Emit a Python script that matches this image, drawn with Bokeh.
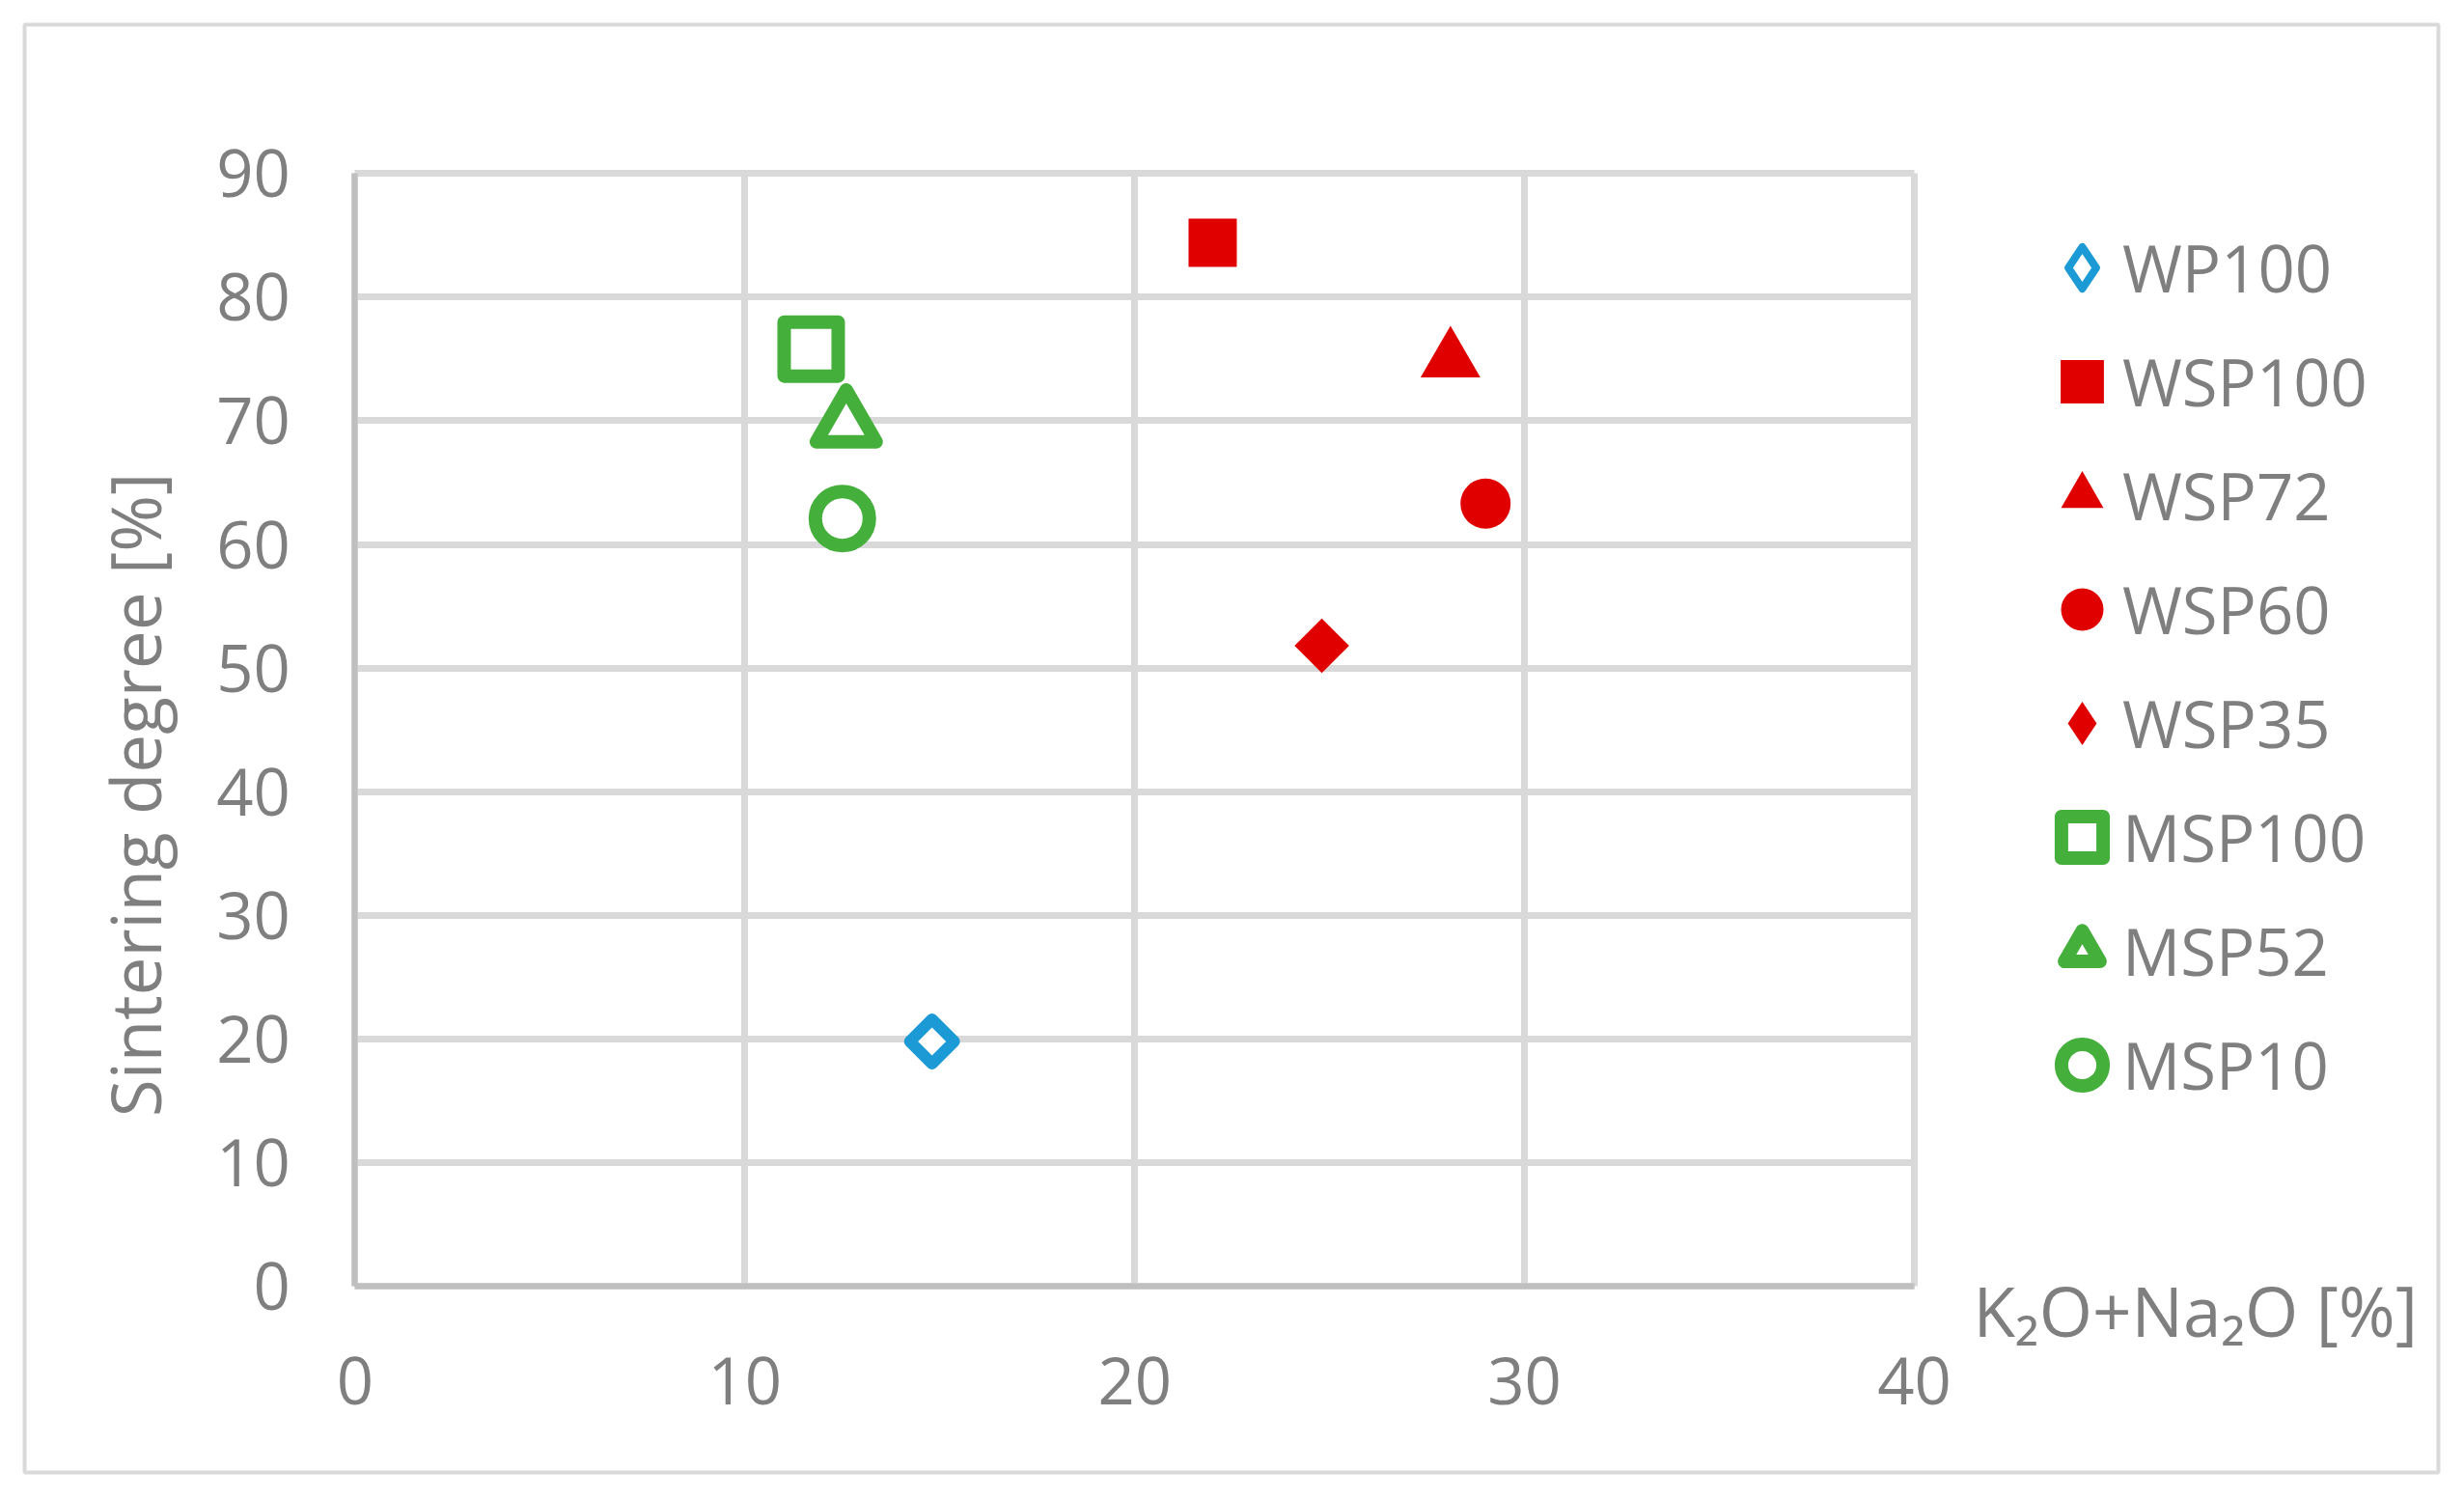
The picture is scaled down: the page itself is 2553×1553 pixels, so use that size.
import math
from bokeh.plotting import figure
from bokeh.models import (Range1d, FixedTicker, Legend, LegendItem, Label, Grid)
from bokeh.embed import file_html
from bokeh.resources import INLINE

# ---------------- data ----------------
names = ["WP100", "WSP100", "WSP72", "WSP60", "WSP35", "MSP100", "MSP52", "MSP10"]
alkali = [14.8, 22.0, 28.1, 29.0, 24.8, 11.7, 12.6, 12.5]          # K2O+Na2O [%]
sintering = [19.8, 84.4, 74.9, 63.3, 51.8, 75.8, 69.7, 62.1]       # Sintering degree [%]
x_ticks = [0, 10, 20, 30, 40]
y_ticks = [0, 10, 20, 30, 40, 50, 60, 70, 80, 90]
x_title = "K\u2082O+Na\u2082O [%]"
y_title = "Sintering degree [%]"

# ---------------- styles ----------------
BLUE, RED, GREEN = "#1C9AD6", "#E00000", "#45AF3C"
TXT = "#7F7F7F"
FONT = "Open Sans"
Q = math.pi / 4
# plot marker style; "leg" = legend glyph box width, "lm" = legend marker override
styles = [
    dict(marker="square", angle=Q, size=32.5, fill_color="white", line_color=BLUE, line_width=12,
         leg=108, lm=dict(marker="diamond", line_width=8)),
    dict(marker="square", angle=0, size=50, fill_color=RED, line_color=None, line_width=0, leg=112, lm=None),
    dict(marker="triangle", angle=0, size=62, fill_color=RED, line_color=None, line_width=0, leg=110, lm=None),
    dict(marker="circle", angle=0, size=52, fill_color=RED, line_color=None, line_width=0, leg=110, lm=None),
    dict(marker="square", angle=Q, size=40, fill_color=RED, line_color=None, line_width=0,
         leg=112, lm=dict(marker="diamond", line_width=0)),
    dict(marker="square", angle=0, size=56, fill_color="white", line_color=GREEN, line_width=14, leg=108, lm=None),
    dict(marker="triangle", angle=0, size=62, fill_color="white", line_color=GREEN, line_width=14, leg=92, lm=None),
    dict(marker="circle", angle=0, size=56, fill_color="white", line_color=GREEN, line_width=14, leg=108, lm=None),
]

# ---------------- layout (canvas px) ----------------
W, H = 2537, 1537
BOX_L, BOX_T, BOX_R, BOX_B = 25, 25, 2526, 1525     # outer chart box = frame
PL, PR, PT, PB = 367.4, 1983.0, 179.3, 1332.0       # plot-area edges
X0, X1 = x_ticks[0], x_ticks[-1]
Y0, Y1 = y_ticks[0], y_ticks[-1]
kx = (PR - PL) / (X1 - X0)
ky = (PB - PT) / (Y1 - Y0)
x_range = Range1d(X0 - (PL - BOX_L) / kx, X1 + (BOX_R - PR) / kx)
y_range = Range1d(Y0 - (BOX_B - PB) / ky, Y1 + (PT - BOX_T) / ky)

p = figure(width=W, height=H, output_backend="svg", toolbar_location=None,
           x_range=x_range, y_range=y_range,
           min_border_left=BOX_L, min_border_right=W - BOX_R,
           min_border_top=BOX_T, min_border_bottom=H - BOX_B)
p.outline_line_color = "#D9D9D9"
p.outline_line_width = 4
p.background_fill_color = "white"
p.border_fill_color = "white"

for ax, ticks in ((p.xaxis, x_ticks), (p.yaxis, y_ticks)):
    ax.ticker = FixedTicker(ticks=ticks)
    ax.fixed_location = 0
    ax.bounds = (ticks[0], ticks[-1])
    ax.major_tick_line_color = None
    ax.minor_tick_line_color = None
    ax.axis_line_color = "#BFBFBF"
    ax.axis_line_width = 6
    ax.major_label_text_font = FONT
    ax.major_label_text_font_size = "67px"
    ax.major_label_text_color = TXT

p.xaxis.major_label_standoff = 67
p.yaxis.major_label_standoff = 61

has_cross = "cross_bounds" in Grid.properties()
p.xgrid.ticker = FixedTicker(ticks=x_ticks)
p.ygrid.ticker = FixedTicker(ticks=y_ticks)
p.xgrid.bounds = (X0, X1)
p.ygrid.bounds = (Y0, Y1)
if has_cross:
    p.xgrid.cross_bounds = (Y0, Y1)
    p.ygrid.cross_bounds = (X0, X1)
    for g in (p.xgrid, p.ygrid):
        g.grid_line_color = "#D9D9D9"
        g.grid_line_width = 7
else:
    p.xgrid.grid_line_color = None
    p.ygrid.grid_line_color = None
    p.segment(x0=x_ticks, x1=x_ticks, y0=[Y0] * len(x_ticks), y1=[Y1] * len(x_ticks),
              line_color="#D9D9D9", line_width=7, level="underlay")
    p.segment(x0=[X0] * len(y_ticks), x1=[X1] * len(y_ticks), y0=y_ticks, y1=y_ticks,
              line_color="#D9D9D9", line_width=7, level="underlay")

# ---------------- markers + legend ----------------
LEG_CX, LEG_LX, LEG_CY0, PITCH, EH = 2157, 2199, 276.5, 118, 112

def leg_box(**kw):
    return dict(padding=0, margin=0, spacing=0, border_line_color=None,
                background_fill_alpha=0, label_text_font=FONT,
                label_text_font_size="67px", label_text_color=TXT, **kw)

label_items = []
for i, (nm, xv, yv, st) in enumerate(zip(names, alkali, sintering, styles)):
    sym = None
    if st["lm"] is not None:
        # legends draw markers unrotated: a tiny diamond under the real marker supplies the legend symbol
        sym = p.scatter(x=[xv], y=[yv], marker=st["lm"]["marker"], size=1,
                        fill_color=st["fill_color"], line_color=st["line_color"],
                        line_width=st["lm"]["line_width"], line_join="round")
    r = p.scatter(x=[xv], y=[yv], marker=st["marker"], size=st["size"], angle=st["angle"],
                  fill_color=st["fill_color"], line_color=st["line_color"],
                  line_width=st["line_width"], line_join="round")
    if sym is None:
        sym = r
    G = st["leg"]
    cy = LEG_CY0 + PITCH * i
    p.add_layout(Legend(items=[LegendItem(label=" ", renderers=[sym])],
                        location=(LEG_CX - G / 2 - BOX_L, BOX_B - cy - EH / 2),
                        glyph_width=G, glyph_height=EH, label_height=EH, label_standoff=0,
                        **leg_box()))
    ghost = p.scatter(x=[], y=[], marker="square", fill_alpha=0, line_alpha=0)
    label_items.append(LegendItem(label=nm, renderers=[ghost]))

n = len(names)
leg_h = n * EH + (n - 1) * (PITCH - EH)
p.add_layout(Legend(items=label_items,
                    location=(LEG_LX - 1 - BOX_L, BOX_B - (LEG_CY0 - EH / 2) - leg_h),
                    glyph_width=1, glyph_height=EH, label_height=EH, label_standoff=0,
                    **{**leg_box(), "spacing": PITCH - EH}))

# axis titles
BASE_FIX = 26   # Bokeh's alphabetic-baseline offset seen in the render
p.add_layout(Label(x=2044 - BOX_L, y=BOX_B - 1383 + BASE_FIX, x_units="screen", y_units="screen",
                   text=x_title, text_font=FONT, text_font_size="71px",
                   text_color=TXT, text_baseline="alphabetic"))
p.add_layout(Label(x=165 - BASE_FIX - BOX_L, y=BOX_B - 823, x_units="screen", y_units="screen",
                   angle=math.pi / 2, text=y_title, text_font=FONT, text_font_size="71px",
                   text_color=TXT, text_baseline="alphabetic", text_align="center"))

open("out.html", "w").write(file_html(p, INLINE))
